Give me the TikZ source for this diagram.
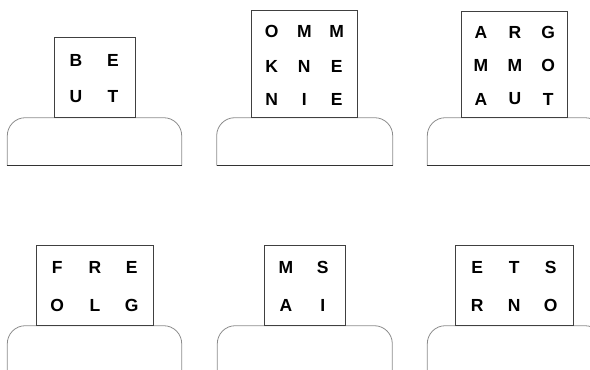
\documentclass[tikz,border=0pt]{standalone}
\usepackage{fontspec}
\setmainfont{Liberation Sans}
\newfontfamily\heavysans{Liberation Sans Bold}
\begin{document}
\begin{tikzpicture}[x=1pt,y=-1pt,
  card/.style={draw=black!75,line width=0.9pt,fill=white},
  base/.style={draw=black!45,line width=0.8pt,rounded corners=18pt},
  baseline/.style={draw=black!80,line width=0.9pt},
  let/.style={font=\heavysans\fontsize{17.5}{17.5}\selectfont,inner sep=0pt,anchor=center}]
\useasboundingbox (0,0) rectangle (590,370);
\clip (0,0) rectangle (590,370);
% bases
\draw[base] (7.3,165.7) -- (7.3,117.7) -- (181.7,117.7) -- (181.7,165.7);
\draw[baseline] (7.3,165.7) -- (181.7,165.7);
\draw[base] (216.7,165.7) -- (216.7,117.7) -- (392.7,117.7) -- (392.7,165.7);
\draw[baseline] (216.7,165.7) -- (392.7,165.7);
\draw[base] (427.3,165.7) -- (427.3,117.7) -- (603,117.7) -- (603,165.7);
\draw[baseline] (427.3,165.7) -- (603,165.7);
\draw[base] (7.3,380) -- (7.3,325.7) -- (181.7,325.7) -- (181.7,380);
\draw[base] (217.3,380) -- (217.3,325.7) -- (392.3,325.7) -- (392.3,380);
\draw[base] (427.3,380) -- (427.3,325.7) -- (603,325.7) -- (603,380);
% cards
\draw[card] (54.3,37.3) rectangle (135,117.7);
\draw[card] (251.7,10) rectangle (357.3,117.7);
\draw[card] (461,11.7) rectangle (567.3,117.7);
\draw[card] (36,245) rectangle (153.3,325.7);
\draw[card] (264,245) rectangle (345,325.7);
\draw[card] (455.7,245) rectangle (573.3,325.7);
% letters panel 1
\node[let] (a11) at (76,60) {B};
\node[let] (a12) at (113,60) {E};
\node[let] (a21) at (76,96.7) {U};
\node[let] (a22) at (113,96.7) {T};
% panel 2
\node[let] (b11) at (271.7,31.7) {O};
\node[let] (b12) at (304.3,31.7) {M};
\node[let] (b13) at (336.7,31.7) {M};
\node[let] (b21) at (271.7,66.7) {K};
\node[let] (b22) at (304.3,66.7) {N};
\node[let] (b23) at (336.7,66.7) {E};
\node[let] (b31) at (271.7,99.3) {N};
\node[let] (b32) at (304.3,99.3) {I};
\node[let] (b33) at (336.7,99.3) {E};
% panel 3
\node[let] (c11) at (481,32.3) {A};
\node[let] (c12) at (515,32.3) {R};
\node[let] (c13) at (548.3,32.3) {G};
\node[let] (c21) at (481,65) {M};
\node[let] (c22) at (515,65) {M};
\node[let] (c23) at (548.3,65) {O};
\node[let] (c31) at (481,99) {A};
\node[let] (c32) at (515,99) {U};
\node[let] (c33) at (548.3,99) {T};
% panel 4
\node[let] (d11) at (57.3,267.7) {F};
\node[let] (d12) at (95,267.7) {R};
\node[let] (d13) at (131.7,267.7) {E};
\node[let] (d21) at (57.3,305) {O};
\node[let] (d22) at (95,305) {L};
\node[let] (d23) at (131.7,305) {G};
% panel 5
\node[let] (e11) at (286,267.7) {M};
\node[let] (e12) at (322.7,267.7) {S};
\node[let] (e21) at (286,305) {A};
\node[let] (e22) at (322.7,305) {I};
% panel 6
\node[let] (f11) at (477.3,267.7) {E};
\node[let] (f12) at (514.3,267.7) {T};
\node[let] (f13) at (550.7,267.7) {S};
\node[let] (f21) at (477.3,305) {R};
\node[let] (f22) at (514.3,305) {N};
\node[let] (f23) at (550.7,305) {O};
\end{tikzpicture}
\end{document}
